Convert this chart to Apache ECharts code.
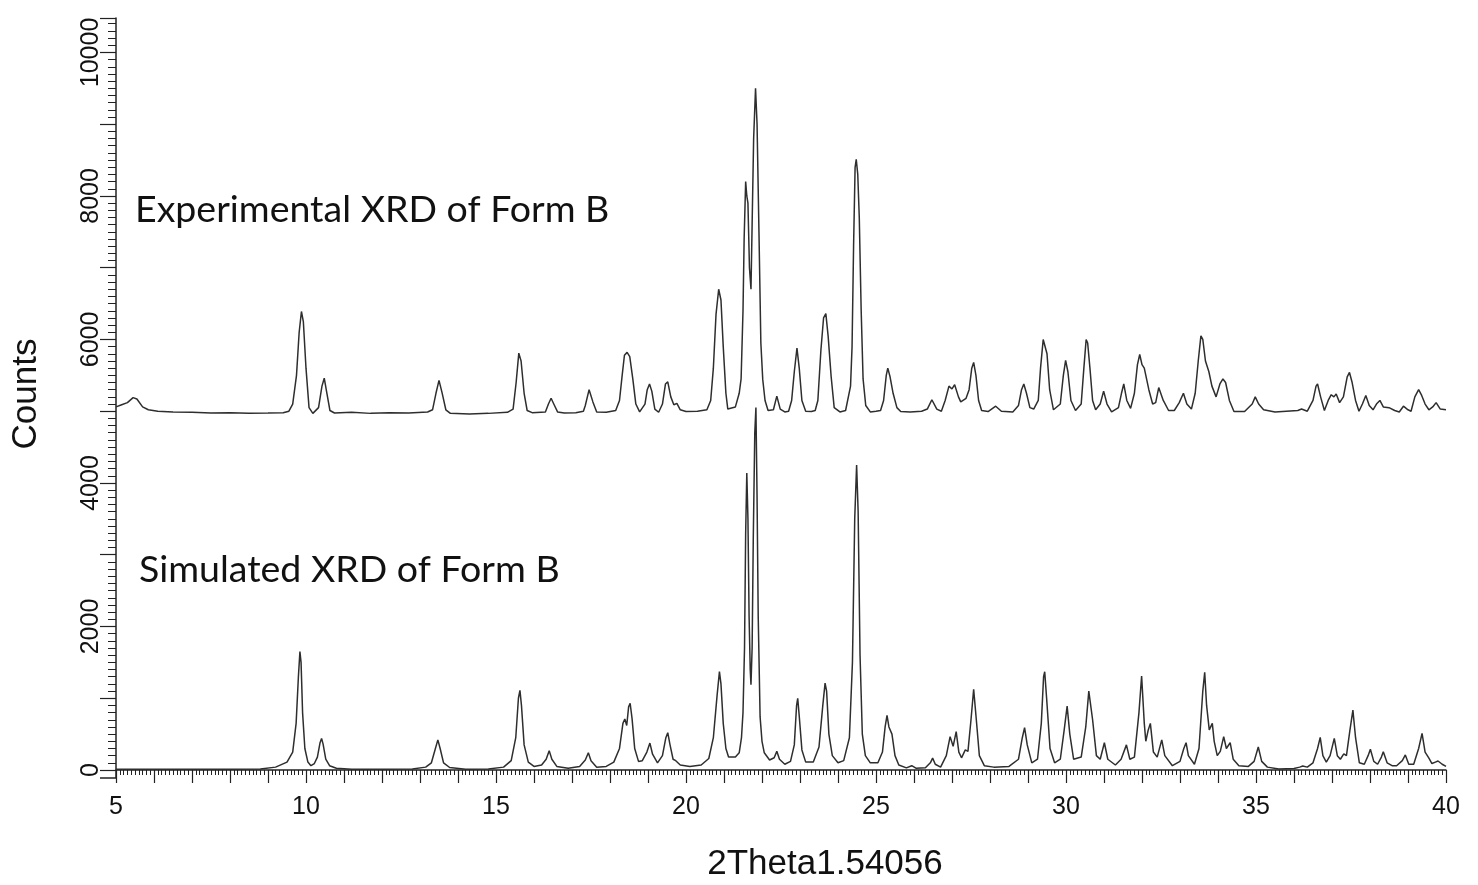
<!DOCTYPE html>
<html>
<head>
<meta charset="utf-8">
<title>XRD Form B</title>
<script src="https://cdn.jsdelivr.net/npm/echarts@6/dist/echarts.min.js"></script>
<style>
  html, body { margin: 0; padding: 0; background: #fff; }
  #chart { width: 1478px; height: 885px; }
</style>
</head>
<body>
<div id="chart"></div>
<script>
// experimental pattern (offset by ~5000 counts), [2theta, counts]
const experimental = [
  [5.0, 5060], [5.15, 5090], [5.3, 5120], [5.45, 5190], [5.55, 5170], [5.7, 5060], [5.85, 5020],
  [6.1, 5000], [6.5, 4990], [7.0, 4985], [7.5, 4975], [8.0, 4980], [8.5, 4970], [9.0, 4975],
  [9.4, 4980], [9.55, 5000],
  [9.65, 5100], [9.75, 5500], [9.82, 6100], [9.88, 6390], [9.93, 6250], [10.0, 5600], [10.08, 5050], [10.18, 4970],
  [10.33, 5050], [10.42, 5350], [10.48, 5460], [10.55, 5250], [10.63, 5010], [10.75, 4975],
  [11.2, 4985], [11.7, 4970], [12.2, 4980], [12.7, 4975], [13.2, 4990],
  [13.33, 5020], [13.42, 5250], [13.5, 5430], [13.58, 5260], [13.68, 5020], [13.8, 4970],
  [14.3, 4960], [14.8, 4970], [15.3, 4985],
  [15.45, 5030], [15.53, 5400], [15.6, 5810], [15.66, 5700], [15.74, 5250], [15.82, 5010], [15.95, 4980],
  [16.3, 4990], [16.38, 5100], [16.45, 5180], [16.53, 5090], [16.62, 4990], [16.8, 4975], [17.1, 4980], [17.3, 5000],
  [17.35, 5080], [17.45, 5300], [17.55, 5130], [17.65, 4990], [17.9, 4985], [18.15, 5010],
  [18.25, 5150], [18.32, 5500], [18.38, 5780], [18.45, 5820], [18.52, 5760], [18.6, 5450], [18.68, 5100], [18.78, 4990],
  [18.92, 5100], [18.98, 5300], [19.04, 5380], [19.1, 5280], [19.18, 5030], [19.28, 4985],
  [19.38, 5100], [19.46, 5380], [19.52, 5410], [19.6, 5200], [19.68, 5090], [19.76, 5110], [19.85, 5020],
  [20.0, 4995], [20.3, 5000], [20.55, 5020],
  [20.65, 5150], [20.72, 5600], [20.79, 6350], [20.86, 6700], [20.92, 6550], [20.98, 5900], [21.05, 5250], [21.1, 5030],
  [21.3, 5060], [21.4, 5250], [21.45, 5450], [21.5, 6400], [21.53, 7400], [21.57, 8200], [21.6, 8000],
  [21.63, 7900], [21.67, 7000], [21.71, 6700], [21.74, 7600], [21.78, 8800], [21.83, 9500], [21.87, 9000],
  [21.92, 7500], [21.97, 5950], [22.02, 5440], [22.08, 5150], [22.16, 5010],
  [22.3, 5020], [22.39, 5210], [22.48, 5030], [22.6, 4990],
  [22.7, 5000], [22.78, 5150], [22.85, 5550], [22.92, 5880], [22.98, 5600], [23.05, 5150], [23.15, 5000], [23.3, 4995],
  [23.4, 5010], [23.47, 5150], [23.55, 5850], [23.62, 6300], [23.68, 6360], [23.74, 6050], [23.82, 5480], [23.9, 5050],
  [24.05, 4990], [24.2, 5010],
  [24.25, 5030], [24.33, 5350], [24.37, 5900], [24.41, 7300], [24.45, 8400], [24.48, 8510], [24.52, 8300],
  [24.56, 7700], [24.61, 6400], [24.66, 5450], [24.73, 5080], [24.85, 4990], [25.0, 5000],
  [25.12, 5010], [25.2, 5150], [25.27, 5500], [25.31, 5600], [25.37, 5480], [25.45, 5250], [25.55, 5050], [25.65, 4995],
  [25.9, 4990], [26.2, 5000], [26.35, 5030], [26.47, 5160], [26.6, 5030], [26.72, 5000],
  [26.82, 5150], [26.92, 5350], [27.0, 5310], [27.07, 5370], [27.17, 5200], [27.23, 5130], [27.37, 5180],
  [27.45, 5300], [27.52, 5600], [27.57, 5680], [27.63, 5500], [27.7, 5150], [27.78, 5010],
  [27.95, 4995], [28.15, 5070], [28.3, 5000], [28.6, 4990],
  [28.75, 5080], [28.83, 5300], [28.89, 5380], [28.96, 5250], [29.05, 5050], [29.15, 5030],
  [29.27, 5150], [29.33, 5600], [29.4, 6000], [29.44, 6020], [29.5, 5800], [29.57, 5300], [29.67, 5020],
  [29.85, 5100], [29.93, 5500], [29.99, 5710], [30.05, 5550], [30.13, 5150], [30.25, 5010],
  [30.4, 5100], [30.47, 5600], [30.53, 6000], [30.57, 5950], [30.63, 5600], [30.7, 5150], [30.78, 5020],
  [30.9, 5100], [30.99, 5280], [31.08, 5100], [31.2, 4990],
  [31.38, 5050], [31.46, 5250], [31.52, 5380], [31.6, 5150], [31.7, 5040],
  [31.8, 5250], [31.88, 5650], [31.94, 5790], [32.0, 5650], [32.06, 5600], [32.1, 5620], [32.18, 5300],
  [32.28, 5100], [32.36, 5120], [32.44, 5330], [32.49, 5350], [32.56, 5150], [32.7, 5010],
  [32.85, 5010], [32.98, 5120], [33.09, 5250], [33.18, 5100], [33.3, 5030],
  [33.4, 5250], [33.48, 5700], [33.55, 6050], [33.6, 6000], [33.67, 5700], [33.76, 5550], [33.84, 5350],
  [33.95, 5200], [34.05, 5380], [34.13, 5450], [34.2, 5400], [34.3, 5150], [34.42, 4995],
  [34.7, 4995], [34.9, 5100], [34.98, 5200], [35.07, 5100], [35.2, 5020], [35.5, 4990], [35.8, 5000],
  [36.1, 5010], [36.2, 5030], [36.35, 5000],
  [36.5, 5150], [36.58, 5350], [36.62, 5380], [36.7, 5200], [36.8, 5010], [36.9, 5150], [36.98, 5230],
  [37.05, 5200], [37.11, 5240], [37.2, 5120], [37.3, 5200], [37.4, 5480], [37.46, 5540], [37.53, 5400],
  [37.62, 5150], [37.71, 5000], [37.8, 5100], [37.89, 5220], [37.98, 5080], [38.08, 5020], [38.17, 5100],
  [38.26, 5150], [38.35, 5060], [38.5, 5050], [38.65, 5010], [38.77, 4990], [38.88, 5070], [39.0, 5020],
  [39.08, 5000], [39.18, 5200], [39.28, 5300], [39.36, 5220], [39.45, 5100], [39.55, 5020], [39.65, 5060],
  [39.74, 5120], [39.85, 5030], [40.0, 5020]
];

// simulated pattern, [2theta, counts]
const simulated = [
  [5.0, 10], [6.0, 10], [7.0, 10], [8.0, 10], [8.8, 15], [9.2, 40], [9.5, 110], [9.65, 250],
  [9.74, 650], [9.8, 1300], [9.84, 1650], [9.87, 1500], [9.91, 800], [9.97, 300], [10.05, 110], [10.13, 60],
  [10.22, 90], [10.3, 180], [10.37, 380], [10.41, 440], [10.45, 360], [10.52, 150], [10.62, 60], [10.8, 25],
  [11.2, 12], [12.0, 10], [12.8, 15], [13.15, 40], [13.3, 100], [13.4, 290], [13.47, 420], [13.53, 300],
  [13.62, 100], [13.78, 35], [14.2, 12], [14.8, 15], [15.2, 40], [15.4, 130], [15.52, 450], [15.59, 1000],
  [15.63, 1110], [15.67, 900], [15.74, 350], [15.85, 110], [16.0, 50], [16.2, 70], [16.32, 150], [16.4, 270],
  [16.47, 150], [16.6, 50], [16.9, 25], [17.2, 50], [17.35, 140], [17.43, 240], [17.5, 130], [17.65, 40],
  [17.9, 50], [18.1, 110], [18.25, 300], [18.34, 650], [18.39, 710], [18.44, 620], [18.49, 880], [18.53, 930],
  [18.58, 720], [18.65, 300], [18.75, 120], [18.85, 130], [18.97, 250], [19.05, 375], [19.12, 220], [19.25, 100],
  [19.38, 200], [19.47, 450], [19.52, 520], [19.58, 350], [19.66, 150], [19.73, 130], [19.77, 150], [19.85, 70],
  [20.1, 50], [20.4, 70], [20.6, 160], [20.72, 450], [20.82, 1050], [20.88, 1370], [20.92, 1200], [20.98, 650],
  [21.05, 300], [21.12, 180], [21.17, 170],
  [21.3, 180], [21.4, 240], [21.46, 450], [21.5, 800], [21.54, 1700], [21.57, 3300], [21.6, 4140], [21.63, 3500],
  [21.66, 2150], [21.69, 1400], [21.71, 1190], [21.74, 1700], [21.77, 3200], [21.81, 4700], [21.84, 5050],
  [21.87, 3800], [21.9, 2150], [21.95, 740], [22.0, 400], [22.06, 240], [22.2, 140],
  [22.32, 170], [22.39, 260], [22.46, 150], [22.6, 80], [22.75, 120], [22.85, 350], [22.91, 900], [22.94, 1000],
  [22.98, 750], [23.05, 280], [23.15, 110], [23.35, 110], [23.5, 320], [23.6, 900], [23.66, 1210], [23.7, 1100],
  [23.76, 500], [23.85, 200], [24.0, 100], [24.15, 130], [24.3, 450], [24.38, 1500], [24.44, 3500], [24.49, 4250],
  [24.53, 3600], [24.58, 1600], [24.64, 500], [24.72, 200], [24.85, 100], [25.05, 100], [25.17, 250], [25.24, 600],
  [25.29, 760], [25.34, 600], [25.38, 620], [25.42, 500], [25.5, 200], [25.6, 70], [25.8, 30], [25.94, 60],
  [26.05, 25], [26.3, 30], [26.43, 100], [26.49, 165], [26.56, 80], [26.7, 40], [26.85, 200], [26.95, 465],
  [27.03, 330], [27.11, 535], [27.18, 250], [27.25, 170], [27.35, 280], [27.42, 260], [27.5, 700], [27.57, 1125],
  [27.64, 700], [27.72, 200], [27.85, 60], [28.1, 40], [28.5, 50], [28.75, 150], [28.85, 450], [28.91, 590],
  [28.98, 350], [29.1, 100], [29.25, 150], [29.35, 650], [29.41, 1300], [29.44, 1370], [29.49, 1000], [29.58, 300],
  [29.7, 100], [29.85, 150], [29.95, 550], [30.03, 890], [30.1, 500], [30.2, 150], [30.4, 180], [30.52, 600],
  [30.6, 1100], [30.64, 1120], [30.7, 700], [30.8, 200], [30.9, 150], [31.01, 380], [31.1, 150], [31.3, 70],
  [31.45, 150], [31.59, 350], [31.68, 150], [31.8, 180], [31.92, 800], [31.99, 1310], [32.06, 650], [32.1, 400],
  [32.16, 550], [32.22, 650], [32.3, 250], [32.4, 180], [32.52, 420], [32.6, 200], [32.8, 60], [33.0, 120],
  [33.1, 300], [33.16, 380], [33.22, 200], [33.38, 80], [33.5, 300], [33.6, 1100], [33.65, 1360], [33.7, 900],
  [33.77, 560], [33.85, 650], [33.9, 400], [33.98, 200], [34.06, 260], [34.15, 465], [34.22, 300], [34.32, 380],
  [34.4, 150], [34.55, 60], [34.8, 50], [34.95, 120], [35.06, 320], [35.15, 120], [35.3, 40], [35.6, 15],
  [36.0, 20], [36.15, 40], [36.23, 55], [36.35, 40], [36.5, 100], [36.62, 300], [36.69, 455], [36.76, 200],
  [36.85, 110], [36.95, 200], [37.06, 440], [37.14, 200], [37.22, 150], [37.31, 225], [37.38, 200], [37.47, 550],
  [37.55, 835], [37.62, 450], [37.72, 100], [37.85, 80], [37.95, 200], [38.01, 290], [38.1, 120], [38.2, 80],
  [38.3, 180], [38.35, 255], [38.45, 100], [38.58, 60], [38.7, 60], [38.85, 130], [38.93, 210], [39.02, 80],
  [39.15, 80], [39.28, 300], [39.37, 510], [39.45, 250], [39.55, 165], [39.63, 90], [39.72, 110], [39.79, 125],
  [39.9, 80], [40.0, 50]
];

const labels = ['Experimental XRD of Form B', 'Simulated XRD of Form B'];
const xRange = [5, 40];
const yRange = [0, 10480];

const axisColor = '#222';
const lineColor = '#2e2e2e';
const xAxisDrop = 8; // x axis sits a little below the zero line

const chart = echarts.init(document.getElementById('chart'));

chart.setOption({
  animation: false,
  backgroundColor: '#fff',
  grid: { left: 116, right: 32, top: 18, bottom: 115, containLabel: false, outerBoundsMode: 'none' },
  xAxis: {
    type: 'value',
    min: xRange[0],
    max: xRange[1],
    interval: 1,
    offset: xAxisDrop,
    axisLine: { lineStyle: { color: axisColor, width: 1.5 } },
    axisTick: { length: 13, lineStyle: { color: axisColor, width: 1.2 } },
    minorTick: { show: true, splitNumber: 10, length: 5, lineStyle: { color: axisColor, width: 1 } },
    splitLine: { show: false },
    axisLabel: {
      formatter: v => (v % 5 === 0 ? String(v) : ''),
      fontFamily: 'Liberation Sans',
      fontSize: 25,
      color: '#111',
      margin: 17
    },
    name: '2Theta1.54056',
    nameLocation: 'middle',
    nameGap: 69,
    nameTextStyle: { fontFamily: 'Liberation Sans', fontSize: 35, color: '#111', padding: [0, 0, 0, 88] }
  },
  yAxis: {
    type: 'value',
    min: yRange[0],
    max: yRange[1],
    interval: 1000,
    axisLine: { show: true, lineStyle: { color: axisColor, width: 1.5 } },
    axisTick: { show: true, length: 16, lineStyle: { color: axisColor, width: 1.2 } },
    minorTick: { show: true, splitNumber: 10, length: 8, lineStyle: { color: axisColor, width: 1 } },
    splitLine: { show: false },
    axisLabel: {
      rotate: 90,
      formatter: v => (v % 2000 === 0 ? String(v) : ''),
      fontFamily: 'Liberation Sans',
      fontSize: 25,
      color: '#111',
      margin: 12
    },
    name: 'Counts',
    nameLocation: 'middle',
    nameGap: 72,
    nameTextStyle: { fontFamily: 'Liberation Sans', fontSize: 35, color: '#111' }
  },
  graphic: [
    { id: 'expLabel', type: 'text', left: 135, top: 191, style: { text: labels[0], font: '37.5px Lato', fill: '#111' } },
    { id: 'simLabel', type: 'text', left: 139, top: 551, style: { text: labels[1], font: '37.5px Lato', fill: '#111' } }
  ],
  series: [
    {
      name: labels[0],
      type: 'line',
      data: experimental,
      symbol: 'none',
      lineStyle: { color: lineColor, width: 1.5 }
    },
    {
      name: labels[1],
      type: 'line',
      data: simulated,
      symbol: 'none',
      lineStyle: { color: lineColor, width: 1.5 }
    }
  ]
});

// join the y axis line down to the dropped x axis, as in the original plot
const corner = chart.convertToPixel({ gridIndex: 0 }, [xRange[0], yRange[0]]);
chart.setOption({
  graphic: [
    {
      id: 'axisCorner',
      type: 'polyline',
      silent: true,
      shape: { points: [[corner[0], corner[1]], [corner[0], corner[1] + xAxisDrop], [corner[0] - 16, corner[1] + xAxisDrop]] },
      style: { stroke: axisColor, lineWidth: 1.5, fill: null }
    }
  ]
});
</script>
</body>
</html>
